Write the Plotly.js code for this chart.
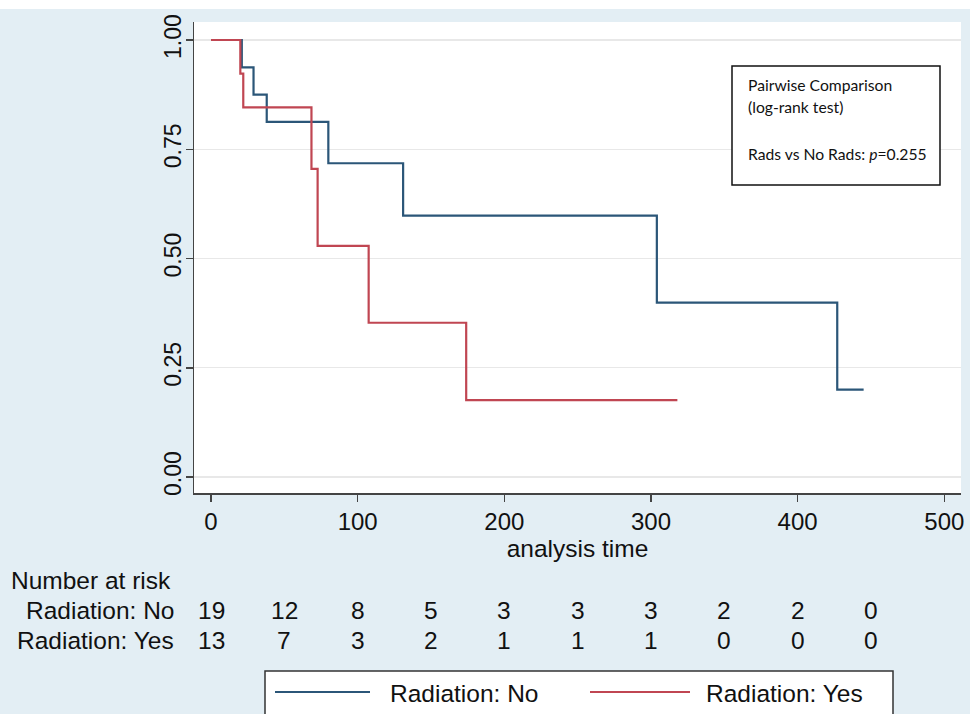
<!DOCTYPE html>
<html>
<head>
<meta charset="utf-8">
<script src="https://cdn.plot.ly/plotly-3.0.1.min.js"></script>
<style>html,body{margin:0;padding:0;background:#fff;}#chart{width:977px;height:714px;}</style>
</head>
<body>
<div id="chart"></div>
<script>
// Kaplan-Meier estimates
const noTimes = [0, 21, 29, 38, 80, 131, 304, 427, 445];
const noSurv  = [1, 0.9375, 0.875, 0.8125, 0.718, 0.598, 0.399, 0.2, 0.2];
const yesTimes = [0, 20, 22, 68.5, 72.7, 107.5, 174, 318];
const yesSurv  = [1, 0.923, 0.846, 0.705, 0.529, 0.353, 0.176, 0.176];

// Number at risk table
const riskTimes = [0, 50, 100, 150, 200, 250, 300, 350, 400, 450];
const riskNo  = [19, 12, 8, 5, 3, 3, 3, 2, 2, 0];
const riskYes = [13, 7, 3, 2, 1, 1, 1, 0, 0, 0];

const seriesNames = ['Radiation: No', 'Radiation: Yes'];
const xTicks = [0, 100, 200, 300, 400, 500];
const yTicks = [0, 0.25, 0.5, 0.75, 1];
const yTickText = ['0.00', '0.25', '0.50', '0.75', '1.00'];

const BLUE = '#2b5678', RED = '#c04652';
const FONT = 'Liberation Sans, Arial, Helvetica, sans-serif';

// layout helpers: pixel -> paper
const L = 194, R = 961, T = 22, B = 493;
const px = v => (v - L) / (R - L);
const py = v => (B - v) / (B - T);

const traces = [
  {x: noTimes, y: noSurv, type: 'scatter', mode: 'lines', name: seriesNames[0],
   line: {color: BLUE, width: 2.2, shape: 'hv'}},
  {x: yesTimes, y: yesSurv, type: 'scatter', mode: 'lines', name: seriesNames[1],
   line: {color: RED, width: 2.2, shape: 'hv'}}
];

const ann = [];
const tableFont = {family: FONT, size: 24.5, color: '#111'};
ann.push({xref: 'paper', yref: 'paper', x: px(9), y: py(580), xanchor: 'left', yanchor: 'middle',
  text: 'Number at risk', showarrow: false, font: tableFont});
ann.push({xref: 'paper', yref: 'paper', x: px(176), y: py(610), xanchor: 'right', yanchor: 'middle',
  text: seriesNames[0], showarrow: false, font: tableFont});
ann.push({xref: 'paper', yref: 'paper', x: px(176), y: py(640), xanchor: 'right', yanchor: 'middle',
  text: seriesNames[1], showarrow: false, font: tableFont});
riskTimes.forEach((t, i) => {
  ann.push({xref: 'x', yref: 'paper', x: t, y: py(610), xanchor: 'center', yanchor: 'middle',
    text: String(riskNo[i]), showarrow: false, font: tableFont});
  ann.push({xref: 'x', yref: 'paper', x: t, y: py(640), xanchor: 'center', yanchor: 'middle',
    text: String(riskYes[i]), showarrow: false, font: tableFont});
});

// test box text
const boxFont = {family: 'Lato, Open Sans, sans-serif', size: 15.7, color: '#111'};
ann.push({xref: 'paper', yref: 'paper', x: px(746), y: py(85), xanchor: 'left', yanchor: 'middle',
  text: 'Pairwise Comparison', showarrow: false, font: boxFont});
ann.push({xref: 'paper', yref: 'paper', x: px(746), y: py(107), xanchor: 'left', yanchor: 'middle',
  text: '(log-rank test)', showarrow: false, font: boxFont});
ann.push({xref: 'paper', yref: 'paper', x: px(746), y: py(154), xanchor: 'left', yanchor: 'middle',
  text: 'Rads vs No Rads: <i>p</i>=0.255', showarrow: false, font: boxFont});

// legend labels
ann.push({xref: 'paper', yref: 'paper', x: px(388), y: py(693), xanchor: 'left', yanchor: 'middle',
  text: seriesNames[0], showarrow: false, font: tableFont});
ann.push({xref: 'paper', yref: 'paper', x: px(704), y: py(693), xanchor: 'left', yanchor: 'middle',
  text: seriesNames[1], showarrow: false, font: tableFont});

const shapes = [
  // white strips of the screenshot
  {type: 'rect', xref: 'paper', yref: 'paper', x0: px(970), x1: px(990), y0: py(720), y1: py(-5),
   fillcolor: '#ffffff', line: {width: 0}, layer: 'above'},
  {type: 'rect', xref: 'paper', yref: 'paper', x0: px(-5), x1: px(990), y0: py(9), y1: py(-5),
   fillcolor: '#ffffff', line: {width: 0}, layer: 'above'},
  // test box
  {type: 'rect', xref: 'paper', yref: 'paper', x0: px(732), x1: px(940), y0: py(185), y1: py(66),
   fillcolor: '#ffffff', line: {color: '#111', width: 1.5}, layer: 'above'},
  // legend box
  {type: 'rect', xref: 'paper', yref: 'paper', x0: px(265), x1: px(893), y0: py(740), y1: py(671),
   fillcolor: '#ffffff', line: {color: '#333', width: 1.5}, layer: 'above'},
  {type: 'line', xref: 'paper', yref: 'paper', x0: px(275), x1: px(370), y0: py(692), y1: py(692),
   line: {color: BLUE, width: 2.2}, layer: 'above'},
  {type: 'line', xref: 'paper', yref: 'paper', x0: px(590), x1: px(690), y0: py(692), y1: py(692),
   line: {color: RED, width: 2.2}, layer: 'above'}
];

const layout = {
  width: 977, height: 714,
  margin: {l: L, r: 977 - R, t: T, b: 714 - B, pad: 0},
  paper_bgcolor: '#e3eef4',
  plot_bgcolor: '#ffffff',
  showlegend: false,
  xaxis: {
    range: [-(211 - L) / 1.4666, (R - 211) / 1.4666],
    tickvals: xTicks, ticks: 'outside', ticklen: 7, tickwidth: 1.5, tickcolor: '#444',
    showline: true, linecolor: '#444', linewidth: 1.5, showgrid: false, zeroline: false,
    tickfont: {family: FONT, size: 24, color: '#111'},
    title: {text: 'analysis time', font: {family: FONT, size: 24.5, color: '#111'}, standoff: 2}
  },
  yaxis: {
    range: [-16 / 437, 1 + 18 / 437],
    tickvals: yTicks, ticktext: yTickText, tickangle: -90,
    ticks: 'outside', ticklen: 7, tickwidth: 1.5, tickcolor: '#444',
    ticklabelstandoff: -5,
    showline: true, linecolor: '#444', linewidth: 1.5,
    showgrid: true, gridcolor: '#e8e8e8', gridwidth: 1.3, zeroline: false,
    tickfont: {family: FONT, size: 23, color: '#111'}
  },
  annotations: ann,
  shapes: shapes
};

Plotly.newPlot('chart', traces, layout, {displayModeBar: false, staticPlot: true});
</script>
</body>
</html>
